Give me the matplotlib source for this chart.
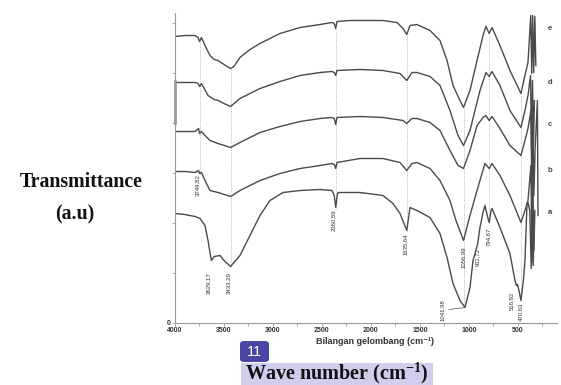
import matplotlib.pyplot as plt
import numpy as np
from matplotlib.patches import FancyBboxPatch, Rectangle

plt.rcParams["mathtext.fontset"] = "custom"
plt.rcParams["mathtext.rm"] = "Liberation Serif"
plt.rcParams["mathtext.bf"] = "Liberation Serif:bold"

# FTIR spectra, transmittance in arbitrary (stacked) units
wn_e = [4000, 3900, 3796, 3765, 3749, 3730, 3694, 3643, 3600, 3561, 3500, 3433, 3400, 3337, 3235,
        3133, 3031, 2929, 2724, 2520, 2398, 2375, 2360, 2347, 2214, 1878, 1735, 1673, 1635, 1602,
        1531, 1398, 1296, 1224, 1163, 1092, 1056, 990, 918, 857, 827, 794, 765, 684, 582, 470,
        429, 398, 370, 360, 350, 340, 328, 318]
t_e = [286, 287, 287, 285, 281, 285, 277, 267, 263, 262, 258, 254, 256, 265, 273,
       279, 284, 289, 295, 298, 300, 299, 294, 301, 302, 302, 300, 294, 288, 297,
       298, 292, 282, 262, 237, 222, 215, 232, 262, 287, 296, 289, 295, 277, 252, 229,
       247, 260, 307, 249, 307, 250, 306, 257]

wn_d = [4000, 3900, 3796, 3765, 3749, 3730, 3663, 3600, 3561, 3500, 3433, 3337, 3133, 2929, 2724,
        2520, 2398, 2375, 2360, 2347, 2112, 1878, 1704, 1635, 1582, 1531, 1398, 1296, 1194, 1112,
        1056, 990, 888, 827, 794, 765, 684, 582, 470, 429, 398, 372, 362, 352, 342, 332]
t_d = [240, 240, 240, 239, 236, 239, 227, 223, 222, 219, 216, 224, 234, 241, 247,
       250, 251, 250, 247, 252, 253, 252, 249, 242, 250, 250, 246, 237, 212, 187,
       177, 192, 232, 250, 246, 251, 237, 212, 195, 212, 227, 247, 172, 242, 177, 222]

wn_c = [4000, 3900, 3796, 3760, 3749, 3730, 3694, 3643, 3561, 3433, 3337, 3133, 2929, 2724, 2520,
        2398, 2375, 2360, 2347, 2112, 1878, 1673, 1635, 1582, 1531, 1398, 1296, 1194, 1112, 1056,
        990, 918, 857, 827, 794, 765, 684, 582, 470, 429, 398, 368, 358, 348, 338, 326, 302, 296]
t_c = [191, 191, 191, 194, 189, 191, 187, 182, 179, 175, 180, 190, 196, 201, 204,
       205, 204, 198, 205, 206, 205, 202, 199, 204, 204, 200, 192, 172, 157, 154,
       172, 197, 205, 207, 202, 206, 194, 177, 167, 182, 194, 212, 122, 207, 127, 172, 222, 107]

wn_b = [4000, 3900, 3796, 3760, 3749, 3730, 3694, 3643, 3561, 3433, 3337, 3133, 2929, 2724, 2520,
        2398, 2375, 2360, 2347, 2112, 1878, 1704, 1635, 1582, 1531, 1398, 1296, 1194, 1133, 1056,
        990, 918, 837, 794, 765, 684, 582, 470, 429, 398, 368, 358, 348, 338, 328]
t_b = [151, 151, 150, 152, 149, 150, 142, 132, 130, 126, 132, 142, 149, 154, 157,
       159, 158, 154, 160, 164, 164, 160, 152, 159, 160, 154, 142, 122, 102, 82,
       107, 132, 159, 154, 159, 147, 127, 100, 112, 122, 157, 60, 142, 72, 112]

wn_a = [4000, 3900, 3796, 3745, 3694, 3663, 3643, 3629, 3600, 3541, 3500, 3433, 3337, 3235, 3133,
        3031, 2898, 2724, 2520, 2398, 2375, 2360, 2345, 2337, 2112, 1878, 1776, 1704, 1635, 1602,
        1531, 1398, 1296, 1224, 1163, 1092, 1041, 990, 959, 930, 911, 888, 857, 837, 806, 794,
        775, 765, 684, 582, 531, 516, 505, 490, 470, 445, 429, 408, 398, 380, 365, 355, 345, 335]
t_a = [109, 108, 106, 104, 97, 82, 70, 62, 66, 67, 62, 56, 67, 87, 107,
       122, 130, 132, 133, 132, 127, 115, 127, 130, 130, 127, 119, 109, 92, 115,
       112, 105, 89, 65, 39, 22, 15, 35, 62, 72, 79, 95, 110, 117, 104, 100,
       112, 114, 95, 69, 42, 37, 38, 32, 22, 42, 62, 119, 120, 112, 54, 117, 57, 92]

curve_names = ["a", "b", "c", "d", "e"]
curve_wn = [wn_a, wn_b, wn_c, wn_d, wn_e]
curve_t = [t_a, t_b, t_c, t_d, t_e]
name_pos = [(173, 110), (173, 152), (173, 198), (173, 240), (173, 294)]

# dotted guide lines: wavenumber, lowest curve they reach
guide_wn = [3749, 3433, 2360, 1635, 1056, 794, 470]
guide_low = ["b", "a", "a", "a", "a", "a", "a"]

# peak labels: text, wavenumber, y
peak_text = ["3749,82", "3629,17", "3433,29", "2360,59", "1635,64", "1056,99", "911,72",
             "794,67", "1041,98", "516,92", "470,63"]
peak_x = [3765, 3653, 3450, 2380, 1650, 1060, 918, 806, 1276, 561, 469]
peak_y = [137, 39, 39, 102, 78, 65, 66, 86, 12, 22, 11]

W, H = 561, 385
fig = plt.figure(figsize=(W / 100, H / 100), dpi=100)
ax = fig.add_axes([175 / W, 62.5 / H, 382 / W, 309.5 / H])

line_color = "#4a4a4a"
for wn, t in zip(curve_wn, curve_t):
    ax.plot(wn, t, color=line_color, lw=1.0, solid_joinstyle="round")

lookup = dict(zip(curve_names, zip(curve_wn, curve_t)))
for g, low in zip(guide_wn, guide_low):
    lw_, lt_ = lookup[low]
    top = np.interp(g, wn_e[::-1], t_e[::-1])
    bottom = np.interp(g, lw_[::-1], lt_[::-1])
    ax.plot([g, g], [bottom, top], color="#b5b5b5", lw=0.7, ls=(0, (1, 1.5)), zorder=0)

narrow = ["Liberation Sans Narrow", "Liberation Sans", "DejaVu Sans"]
for txt, x, y in zip(peak_text, peak_x, peak_y):
    ax.text(x, y, txt, rotation=90, ha="center", va="center", fontsize=4.3,
            family=narrow, color="#333333")
ax.plot([1204, 1041], [13, 15], color="#555555", lw=0.5)

for name, (x, y) in zip(curve_names, name_pos):
    ax.text(x, y, name, ha="center", va="center", fontsize=5.5,
            family=["Liberation Sans", "DejaVu Sans"], weight="bold", color="#444444")

# left spine darker segment
ax.plot([4000, 4000], [200, 242], color="#888888", lw=1.8, clip_on=False)

ax.set_xlim(4000, 102)
ax.set_ylim(0, 309.5)
ax.set_xticks(np.arange(4000, 499, -500))
ax.set_xticks(np.arange(3750, 200, -500), minor=True)
ax.set_yticks(np.arange(0, 301, 50))
ax.set_yticklabels(["0"] + [""] * 6)
for s in ["top", "right"]:
    ax.spines[s].set_visible(False)
for s in ["left", "bottom"]:
    ax.spines[s].set_color("#9a9a9a")
    ax.spines[s].set_linewidth(0.8)
ax.tick_params(which="both", length=2, width=0.6, color="#9a9a9a", pad=1.5,
               labelsize=5, labelcolor="#333333")
for lab in ax.get_xticklabels() + ax.get_yticklabels():
    lab.set_family(["Liberation Sans", "DejaVu Sans"])
    lab.set_weight("bold")

fig.text(375 / W, 1 - 342 / H, "Bilangan gelombang (cm\u207b\u00b9)", ha="center", va="center",
         fontsize=6.5, weight="bold", family=["Liberation Sans", "DejaVu Sans"], color="#333333")

serif = ["Liberation Serif", "DejaVu Serif"]
fig.text(81 / W, 1 - 182 / H, "Transmittance", ha="center", va="center",
         fontsize=14.3, weight="bold", family=serif, color="#111111")
fig.text(75 / W, 1 - 214 / H, "(a.u)", ha="center", va="center",
         fontsize=14.3, weight="bold", family=serif, color="#111111")

# highlighted axis title and slide number badge
fig.patches.append(Rectangle((241 / W, 0), (433 - 241) / W, (385 - 363) / H,
                             transform=fig.transFigure, facecolor="#d0ceec", edgecolor="none"))
fig.text(337 / W, 1 - 373 / H, r"Wave number (cm$^{\mathbf{-1}}$)", ha="center", va="center",
         fontsize=14.5, weight="bold", family=serif, color="#111111")
fig.patches.append(FancyBboxPatch((240 / W, 1 - 362 / H), 29 / W, 21 / H,
                                  boxstyle="round,pad=0,rounding_size=0.008",
                                  transform=fig.transFigure, facecolor="#4b45a6", edgecolor="none"))
fig.text(254.5 / W, 1 - 351.5 / H, "11", ha="center", va="center", fontsize=10.5,
         family=["Liberation Sans", "DejaVu Sans"], color="white")

fig.savefig("out.png", dpi=100)
